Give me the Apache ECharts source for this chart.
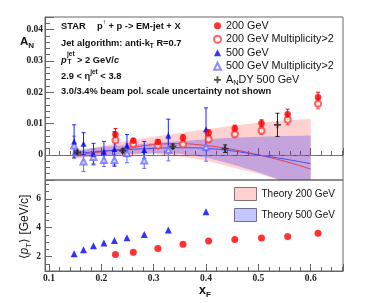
<!DOCTYPE html>
<html><head><meta charset="utf-8">
<script src="https://cdn.jsdelivr.net/npm/echarts@6/dist/echarts.min.js"></script>
<style>html,body{margin:0;padding:0;background:#fff}#c{width:392px;height:303px}</style>
</head><body><div id="c"></div>
<script>
// ---- data ----
const xs200   = [0.227, 0.261, 0.308, 0.356, 0.405, 0.455, 0.506, 0.556, 0.614];
const an200   = [0.0065, 0.0045, 0.0041, 0.0055, 0.0071, 0.0084, 0.0101, 0.0130, 0.0184];
const err200  = [0.0019, 0.0008, 0.0008, 0.0009, 0.0009, 0.0011, 0.0011, 0.0016, 0.0016];
const an200m  = [0.0047, 0.0035, 0.0030, 0.0033, 0.0050, 0.0066, 0.0077, 0.0112, 0.0163];
const err200m = [0.0019, 0.0008, 0.0008, 0.0009, 0.0010, 0.0011, 0.0012, 0.0016, 0.0016];
const pt200   = [2.15, 2.30, 2.56, 2.86, 3.07, 3.18, 3.28, 3.39, 3.62];

const xs500   = [0.148, 0.166, 0.185, 0.205, 0.225, 0.249, 0.282, 0.328, 0.400];
const an500   = [0.0043, 0.0036, 0.0004, 0.0010, 0.0019, 0.0030, 0.0016, 0.0062, 0.0082];
const err500  = [0.0053, 0.0035, 0.0033, 0.0033, 0.0055, 0.0035, 0.0027, 0.0052, 0.0068];
const an500m  = [0.0030, -0.0021, -0.0007, -0.0016, -0.0016, 0.0005, -0.0018, 0.0016, 0.0025];
const err500m = [0.0030, 0.0032, 0.0025, 0.0021, 0.0016, 0.0030, 0.0025, 0.0035, 0.0045];
const pt500   = [2.20, 2.47, 2.74, 2.93, 3.11, 3.30, 3.53, 3.83, 5.10];

const xsDY  = [0.154, 0.241, 0.3365, 0.4365, 0.5365];
const anDY  = [0.0009, 0.0013, 0.0027, 0.0020, 0.0096];
const errDY = [0.0006, 0.0006, 0.0007, 0.0012, 0.0037];

const thX     = [0.145, 0.2, 0.25, 0.3, 0.35, 0.4, 0.45, 0.5, 0.55, 0.6];
const th200   = [-0.0003, 0.0010, 0.0021, 0.0033, 0.0036, 0.0030, 0.0018, 0.0000, -0.0020, -0.0045];
const th200Hi = [0.0008, 0.0028, 0.0045, 0.0058, 0.0070, 0.0082, 0.0093, 0.0103, 0.0110, 0.0115];
const th200Lo = [-0.0010, -0.0004, 0.0000, 0.0004, -0.0005, -0.0018, -0.0040, -0.0060, -0.0085, -0.0110];
const th500   = [0.0003, 0.0012, 0.0017, 0.0021, 0.0023, 0.0021, 0.0013, 0.0000, -0.0013, -0.0028];
const th500Hi = [0.0015, 0.0025, 0.0032, 0.0038, 0.0044, 0.0050, 0.0055, 0.0058, 0.0060, 0.0062];
const th500Lo = [-0.0010, -0.0002, 0.0003, 0.0005, 0.0004, -0.0008, -0.0030, -0.0055, -0.0085, -0.0120];

// ---- helpers ----
const SANS = 'Liberation Sans, Arial, Helvetica, sans-serif';
const SERIF = 'Liberation Serif, Times New Roman, serif';
const pts = (xs, ys) => xs.map((x, i) => [x, ys[i]]);

function errSeries(xs, ys, es, color, z) {
  return {
    type: 'custom', xAxisIndex: 0, yAxisIndex: 0, clip: true, silent: true, z: z || 3,
    data: xs.map((x, i) => [x, ys[i], es[i]]),
    renderItem(params, api) {
      const x = api.value(0), y = api.value(1), e = api.value(2);
      const t = api.coord([x, y + e]), b = api.coord([x, y - e]);
      const c = 2;
      const st = { stroke: color, lineWidth: 1 };
      return { type: 'group', children: [
        { type: 'line', shape: { x1: t[0], y1: t[1], x2: b[0], y2: b[1] }, style: st },
        { type: 'line', shape: { x1: t[0] - c, y1: t[1], x2: t[0] + c, y2: t[1] }, style: st },
        { type: 'line', shape: { x1: b[0] - c, y1: b[1], x2: b[0] + c, y2: b[1] }, style: st }
      ] };
    }
  };
}
function bandSeries(name, lo, hi, color) {
  return {
    type: 'custom', name: name, xAxisIndex: 0, yAxisIndex: 0, clip: true, silent: true, z: 1,
    itemStyle: { color: color },
    data: thX.map((x, i) => [x, lo[i], hi[i]]),
    renderItem(params, api) {
      if (params.dataIndexInside !== 0) return null;
      const n = params.dataInsideLength;
      const upper = [], lower = [];
      for (let j = 0; j < n; j++) {
        const x = api.value(0, j);
        upper.push(api.coord([x, api.value(2, j)]));
        lower.push(api.coord([x, api.value(1, j)]));
      }
      return { type: 'polygon', shape: { points: upper.concat(lower.reverse()) }, style: { fill: color } };
    }
  };
}
const crossPath = 'path://M3,0H5V3H8V5H5V8H3V5H0V3H3Z';

const tickLabel = { fontFamily: SERIF, fontWeight: 'bold', fontSize: 9.5, color: '#222' };
const axLine = { show: true, lineStyle: { color: '#666', width: 1 } };

const bold = { fontFamily: SANS, fontWeight: 'bold', fontSize: 9.3, fill: '#111', lineHeight: 14, verticalAlign: 'middle' };
const boldSup = { fontFamily: SANS, fontWeight: 'bold', fontSize: 6.5, fill: '#111', lineHeight: 8, verticalAlign: 'top' };
const boldSub = { fontFamily: SANS, fontWeight: 'bold', fontSize: 6.5, fill: '#111', lineHeight: 8, verticalAlign: 'bottom' };

const PINK = 'rgba(255,0,0,0.18)';
const LAV = 'rgba(40,40,255,0.27)';

const chart = echarts.init(document.getElementById('c'));
chart.setOption({
  animation: false,
  backgroundColor: '#fff',
  grid: [
    { left: 45, top: 17, width: 298, height: 163, show: true, borderColor: '#666', borderWidth: 1, backgroundColor: 'transparent' },
    { left: 45, top: 180, width: 298, height: 91, show: true, borderColor: '#666', borderWidth: 1, backgroundColor: 'transparent' }
  ],
  xAxis: [
    { type: 'value', gridIndex: 0, min: 0.0924, max: 0.6617, splitNumber: 6, axisLine: axLine,
      axisTick: { inside: true, length: 7, lineStyle: { color: '#666' } },
      minorTick: { show: true, splitNumber: 5, length: 4, lineStyle: { color: '#666' } },
      axisLabel: { show: false }, splitLine: { show: false } },
    { type: 'value', gridIndex: 1, min: 0.0924, max: 0.6617, splitNumber: 6, axisLine: axLine,
      axisTick: { inside: true, length: 7, lineStyle: { color: '#666' } },
      minorTick: { show: true, splitNumber: 5, length: 4, lineStyle: { color: '#666' } },
      axisLabel: Object.assign({ margin: 3, showMinLabel: false, showMaxLabel: false }, tickLabel),
      splitLine: { show: false } }
  ],
  yAxis: [
    { type: 'value', gridIndex: 0, min: -0.008, max: 0.044, splitNumber: 5, axisLine: axLine,
      axisTick: { inside: true, length: 9, lineStyle: { color: '#666' } },
      minorTick: { show: true, splitNumber: 5, length: 5, lineStyle: { color: '#666' } },
      axisLabel: Object.assign({ margin: 2, showMinLabel: false, showMaxLabel: false }, tickLabel),
      splitLine: { show: false } },
    { type: 'value', gridIndex: 1, min: 1, max: 7.3, splitNumber: 3, axisLine: axLine,
      axisTick: { inside: true, length: 7, lineStyle: { color: '#666' } },
      minorTick: { show: true, splitNumber: 4, length: 4, lineStyle: { color: '#666' } },
      axisLabel: Object.assign({ margin: 4, showMinLabel: false, showMaxLabel: false }, tickLabel),
      splitLine: { show: false } }
  ],
  legend: [
    { orient: 'vertical', left: 213, top: 19, padding: 0, itemGap: 0, itemWidth: 7, itemHeight: 7,
      selectedMode: false,
      textStyle: { fontFamily: SANS, fontSize: 10.8, color: '#111', lineHeight: 13.5,
        rich: { a: { fontFamily: SANS, fontSize: 10.8, color: '#111' }, s: { fontFamily: SANS, fontSize: 7.5, color: '#111', verticalAlign: 'bottom', lineHeight: 9 } } },
      data: ['200 GeV', '200 GeV Multiplicity>2', '500 GeV', '500 GeV Multiplicity>2',
        { name: 'AN DY 500 GeV' }],
      formatter: n => n === 'AN DY 500 GeV' ? '{a|A}{s|N}{a|DY 500 GeV}' : n },
    { orient: 'vertical', left: 234, top: 187, padding: 0, itemGap: 7, itemWidth: 22, itemHeight: 13,
      selectedMode: false,
      textStyle: { fontFamily: SANS, fontSize: 10, color: '#111' },
      data: [
        { name: 'Theory 200 GeV', icon: 'rect', itemStyle: { color: PINK, borderColor: '#8a7070', borderWidth: 1 } },
        { name: 'Theory 500 GeV', icon: 'rect', itemStyle: { color: LAV, borderColor: '#707088', borderWidth: 1 } }
      ] }
  ],
  series: [
    bandSeries('Theory 200 GeV', th200Lo, th200Hi, PINK),
    bandSeries('Theory 500 GeV', th500Lo, th500Hi, LAV),
    { type: 'line', xAxisIndex: 0, yAxisIndex: 0, data: pts(thX, th200), symbol: 'none', smooth: 0.4,
      lineStyle: { color: '#e04050', width: 1 }, silent: true, z: 2,
      markLine: { silent: true, symbol: 'none', label: { show: false },
        lineStyle: { type: [8, 4], color: '#777', width: 1 }, data: [{ yAxis: 0 }] } },
    { type: 'line', xAxisIndex: 0, yAxisIndex: 0, data: pts(thX, th500), symbol: 'none', smooth: 0.4,
      lineStyle: { color: '#4a4aee', width: 1 }, silent: true, z: 2 },
    errSeries(xs500, an500m, err500m, '#6a6aff'),
    errSeries(xs500, an500, err500, '#2020ff'),
    errSeries(xs200, an200m, err200m, '#ff5050'),
    errSeries(xs200, an200, err200, '#ff0000'),
    errSeries(xsDY, anDY, errDY, '#222'),
    { type: 'scatter', name: '500 GeV Multiplicity>2', xAxisIndex: 0, yAxisIndex: 0, data: pts(xs500, an500m),
      symbol: 'emptyTriangle', symbolSize: 6, itemStyle: { color: '#7070ff', borderWidth: 1 }, z: 4 },
    { type: 'scatter', name: '500 GeV', xAxisIndex: 0, yAxisIndex: 0, data: pts(xs500, an500),
      symbol: 'triangle', symbolSize: 6, itemStyle: { color: '#0000ff' }, z: 4 },
    { type: 'scatter', name: '200 GeV Multiplicity>2', xAxisIndex: 0, yAxisIndex: 0, data: pts(xs200, an200m),
      symbol: 'emptyCircle', symbolSize: 6, itemStyle: { color: '#ff4040', borderWidth: 1 }, z: 4 },
    { type: 'scatter', name: '200 GeV', xAxisIndex: 0, yAxisIndex: 0, data: pts(xs200, an200),
      symbol: 'circle', symbolSize: 6.5, itemStyle: { color: '#ff0000' }, z: 4 },
    { type: 'scatter', name: 'AN DY 500 GeV', xAxisIndex: 0, yAxisIndex: 0, data: pts(xsDY, anDY),
      symbol: crossPath, symbolSize: 7, itemStyle: { color: '#222' }, z: 4 },
    { type: 'scatter', xAxisIndex: 1, yAxisIndex: 1, data: pts(xs500, pt500),
      symbol: 'triangle', symbolSize: 7, itemStyle: { color: '#0000ff' }, z: 4 },
    { type: 'scatter', xAxisIndex: 1, yAxisIndex: 1, data: pts(xs200, pt200),
      symbol: 'circle', symbolSize: 7, itemStyle: { color: '#ff0000' }, z: 4 }
  ],
  graphic: [
    { type: 'text', x: 61, y: 26, style: { text: '{b|STAR}', rich: { b: bold }, verticalAlign: 'middle' } },
    { type: 'text', x: 97, y: 26, style: { text: '{b|p}{sup|↑}{b| + p -> EM-jet + X}', rich: { b: bold, sup: boldSup }, verticalAlign: 'middle' } },
    { type: 'text', x: 61, y: 43, style: { text: '{b|Jet algorithm: anti-k}{sub|T}{b| R=0.7}', rich: { b: bold, sub: boldSub }, verticalAlign: 'middle' } },
    { type: 'text', x: 61, y: 60, style: { text: '{b|p}', rich: { b: Object.assign({}, bold, { fontStyle: 'italic' }) }, verticalAlign: 'middle' } },
    { type: 'text', x: 67, y: 54.5, style: { text: 'jet', font: 'bold 6.5px ' + SANS, fill: '#111', verticalAlign: 'middle' } },
    { type: 'text', x: 67.5, y: 62.5, style: { text: 'T', font: 'bold 6.5px ' + SANS, fill: '#111', verticalAlign: 'middle' } },
    { type: 'text', x: 77, y: 60, style: { text: '{b|> 2 GeV/}{i|c}', rich: { b: bold, i: Object.assign({}, bold, { fontStyle: 'italic' }) }, verticalAlign: 'middle' } },
    { type: 'text', x: 61, y: 76, style: { text: '{b|2.9 < η}{sup|jet}{b| < 3.8}', rich: { b: bold, sup: boldSup }, verticalAlign: 'middle' } },
    { type: 'text', x: 61, y: 91, style: { text: '{b|3.0/3.4% beam pol. scale uncertainty not shown}', rich: { b: bold }, verticalAlign: 'middle' } },
    { type: 'text', x: 20, y: 42, style: { text: '{a|A}{s|N}', rich: {
        a: { fontFamily: SANS, fontWeight: 'bold', fontSize: 11.5, fill: '#111', lineHeight: 16, verticalAlign: 'middle' },
        s: { fontFamily: SANS, fontWeight: 'bold', fontSize: 8, fill: '#111', lineHeight: 9, verticalAlign: 'bottom' } }, verticalAlign: 'middle' } },
    { type: 'text', x: 25, y: 227, rotation: Math.PI / 2, style: { text: '{n|⟨}{i|p}{s|T}{n|⟩ [GeV/c]}', align: 'center', verticalAlign: 'middle', rich: {
        n: { fontFamily: SANS, fontSize: 12, fill: '#111', lineHeight: 16, verticalAlign: 'middle' },
        i: { fontFamily: SANS, fontStyle: 'italic', fontSize: 12, fill: '#111', lineHeight: 16, verticalAlign: 'middle' },
        s: { fontFamily: SANS, fontSize: 8, fill: '#111', lineHeight: 9, verticalAlign: 'bottom' } } } },
    { type: 'text', x: 199, y: 291, style: { text: '{a|x}{s|F}', verticalAlign: 'middle', rich: {
        a: { fontFamily: SANS, fontWeight: 'bold', fontSize: 12.5, fill: '#111', lineHeight: 16, verticalAlign: 'middle' },
        s: { fontFamily: SANS, fontWeight: 'bold', fontSize: 8, fill: '#111', lineHeight: 9, verticalAlign: 'bottom' } } } }
  ]
});
</script>
</body></html>
